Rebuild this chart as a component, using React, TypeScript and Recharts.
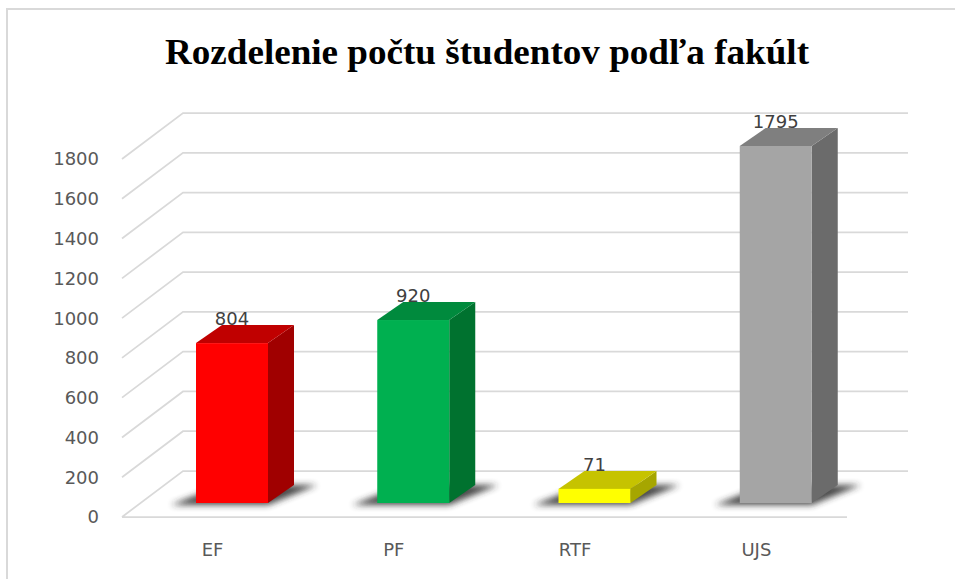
import { BarChart, Bar, XAxis, YAxis, CartesianGrid, LabelList } from 'recharts';

const faculties = ['EF', 'PF', 'RTF', 'UJS'];
const students = [804, 920, 71, 1795];
const yTicks = [0, 200, 400, 600, 800, 1000, 1200, 1400, 1600, 1800];

const data = faculties.map((name, i) => ({ name, students: students[i] }));

// front face, side face, top face
const palette = [
  ['#ff0000', '#a00000', '#c00000'],
  ['#00b050', '#00722f', '#008a3d'],
  ['#ffff00', '#a6a600', '#c6c300'],
  ['#a5a5a5', '#6b6b6b', '#7f7f7f'],
];

const W = 955;
const H = 579;
const margin = { top: 159, right: 108, bottom: 32, left: 22 };
const plotBottom = H - margin.bottom - 30;

// the 3D look: wall depth and where the boxes sit inside it
const WALL_DX = 61;
const WALL_DY = 46;
const BOX_SHIFT_X = 19;
const BOX_SHIFT_Y = 14;
const BOX_DX = 26;
const BOX_DY = 18;

const axisText = { fill: '#595959', fontSize: 18, fontFamily: 'DejaVu Sans' };

function GridLine(p: any) {
  const { x1, x2, y1 } = p;
  const isFloor = Math.abs(y1 - plotBottom) < 1;
  const d = `M${x1},${y1} L${x1 + WALL_DX},${y1 - WALL_DY} L${x2 + WALL_DX},${y1 - WALL_DY}` +
    (isFloor ? ` M${x1},${y1} L${x2},${y1}` : '');
  return <path key={p.key} d={d} fill="none" stroke="#d9d9d9" strokeWidth={1.75} />;
}

function Box(props: any) {
  const { x, y, width, height } = props;
  const idx = props.index ?? faculties.indexOf(props.payload?.name);
  const [front, side, top] = palette[idx] || palette[0];
  const fx = x + BOX_SHIFT_X;
  const fy = y - BOX_SHIFT_Y;
  const bottom = fy + height;
  const id = `shadow-${idx}`;
  const shadow = [
    [fx - 25, bottom + 2],
    [fx + width, bottom + 2],
    [fx + width + BOX_DX + 23, bottom - BOX_DY],
    [fx + BOX_DX, bottom - BOX_DY],
  ].map(pt => pt.join(',')).join(' ');
  const sideFace = [
    [fx + width, fy],
    [fx + width + BOX_DX, fy - BOX_DY],
    [fx + width + BOX_DX, bottom - BOX_DY],
    [fx + width, bottom],
  ].map(pt => pt.join(',')).join(' ');
  const topFace = [
    [fx, fy],
    [fx + BOX_DX, fy - BOX_DY],
    [fx + width + BOX_DX, fy - BOX_DY],
    [fx + width, fy],
  ].map(pt => pt.join(',')).join(' ');
  return (
    <g>
      <defs>
        <filter id={id} x="-50%" y="-50%" width="200%" height="200%">
          <feGaussianBlur stdDeviation={3} />
        </filter>
      </defs>
      <polygon points={shadow} fill="#2b2b2b" opacity={0.85} filter={`url(#${id})`} />
      <polygon points={sideFace} fill={side} />
      <polygon points={topFace} fill={top} />
      <rect x={fx} y={fy} width={width} height={height} fill={front} />
    </g>
  );
}

function ValueLabel(props: any) {
  const { x, y, width, value } = props;
  return (
    <text
      x={x + width / 2 + BOX_SHIFT_X}
      y={y - BOX_SHIFT_Y - 18}
      textAnchor="middle"
      fill="#404040"
      fontSize={18}
      fontFamily="DejaVu Sans"
    >
      {value}
    </text>
  );
}

export default function App() {
  return (
    <div style={{ position: 'absolute', left: 0, top: 0, width: W, height: H, background: '#fff' }}>
      <svg width={W} height={H} style={{ position: 'absolute', left: 0, top: 0 }}>
        <rect x={7} y={9} width={W + 20} height={H + 20} fill="none" stroke="#d9d9d9" strokeWidth={2} />
        <text
          x={487}
          y={64}
          textAnchor="middle"
          fontFamily="Liberation Serif"
          fontWeight="bold"
          fontSize={36}
          textLength={644}
          lengthAdjust="spacingAndGlyphs"
          fill="#000"
        >
          Rozdelenie počtu študentov podľa fakúlt
        </text>
      </svg>
      <div style={{ position: 'absolute', left: 0, top: 0 }}>
        <BarChart width={W} height={H} data={data} margin={margin}>
          <CartesianGrid vertical={false} horizontal={GridLine} />
          <XAxis
            dataKey="name"
            axisLine={false}
            tickLine={false}
            tickSize={0}
            tickMargin={26}
            height={30}
            tick={axisText}
            interval={0}
          />
          <YAxis
            domain={[0, 1800]}
            ticks={yTicks}
            interval={0}
            axisLine={false}
            tickLine={false}
            tickSize={0}
            tickMargin={23}
            width={100}
            tick={axisText}
          />
          <Bar dataKey="students" barSize={72} shape={Box} isAnimationActive={false}>
            <LabelList dataKey="students" content={ValueLabel} />
          </Bar>
        </BarChart>
      </div>
    </div>
  );
}
